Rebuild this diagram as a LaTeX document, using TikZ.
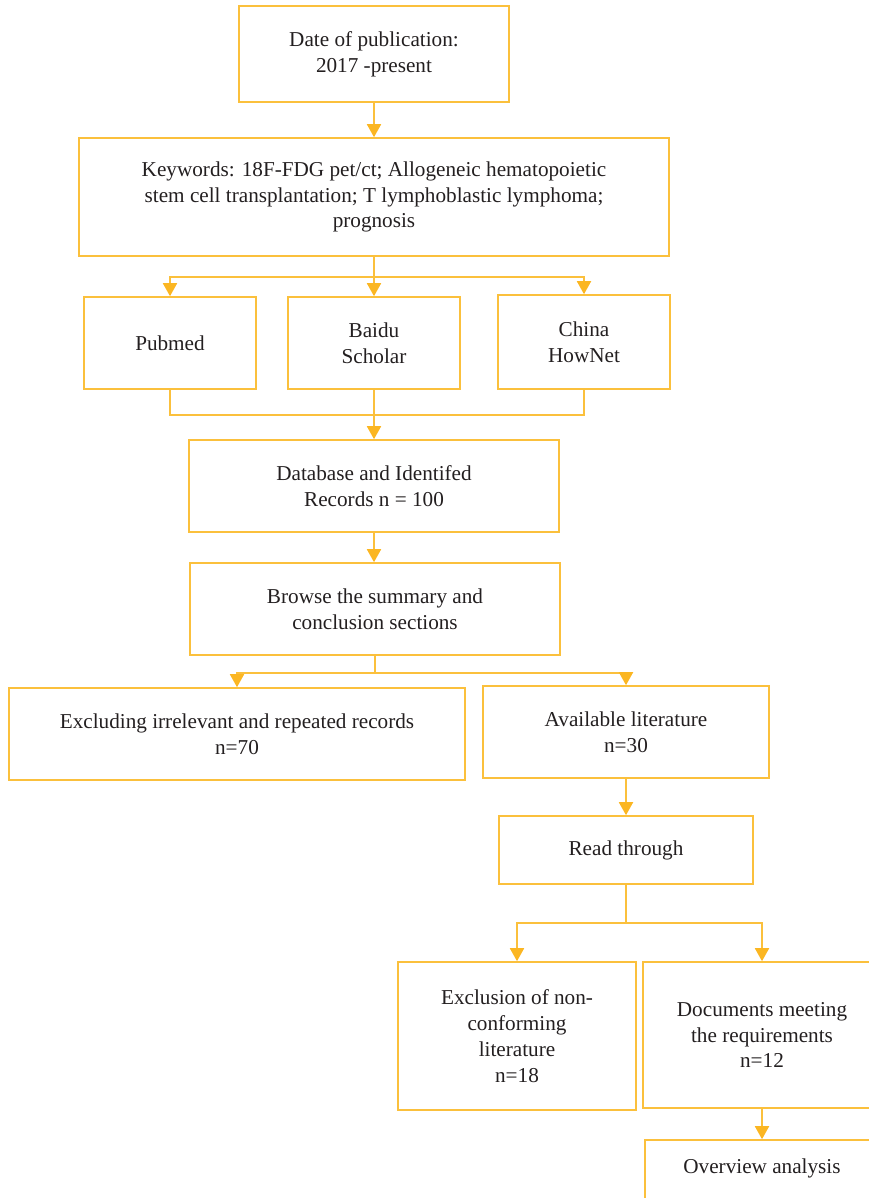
\documentclass[tikz,border=0pt]{standalone}
\usepackage{fontspec}
\setmainfont{Liberation Serif}
\usetikzlibrary{arrows.meta}
\definecolor{linec}{RGB}{251,192,60}
\definecolor{tipc}{RGB}{251,182,34}
\definecolor{txtc}{RGB}{35,31,32}
\begin{document}
\begin{tikzpicture}[x=1pt,y=-1pt,
  txt/.style={align=center, text=txtc, font=\fontsize{21.2}{25.8}\selectfont},
  box/.style={txt, draw=linec, line width=1.6pt, inner sep=0pt, anchor=center},
  conn/.style={draw=linec, line width=1.8pt},
  arr/.style={conn, -{Triangle[width=14pt,length=13pt,color=tipc]}}]
\useasboundingbox (0,0) rectangle (869,1198);
\node[box, minimum width=270pt, minimum height=96pt] (date) at (374,54) {Date of publication:\\ 2017 -present};
\node[box, minimum width=590pt, minimum height=118pt] (kw) at (374,197) {Keywords: 18F-FDG pet/ct; Allogeneic hematopoietic\\stem cell transplantation; T lymphoblastic lymphoma;\\prognosis};
\node[box, minimum width=172pt, minimum height=92pt] (pub) at (170,343) {Pubmed};
\node[box, minimum width=172pt, minimum height=92pt] (baidu) at (374,343) {Baidu\\Scholar};
\node[box, minimum width=172pt, minimum height=94pt] (china) at (584,342) {China\\HowNet};
\node[box, minimum width=370pt, minimum height=92pt] (db) at (374,486) {Database and Identifed\\Records n = 100};
\node[box, minimum width=370pt, minimum height=92pt] (browse) at (375,609) {Browse the summary and\\conclusion sections};
\node[box, minimum width=456pt, minimum height=92pt] (excl) at (237,734) {Excluding irrelevant and repeated records\\n=70};
\node[box, minimum width=286pt, minimum height=92pt] (avail) at (626,732) {Available literature\\n=30};
\node[box, minimum width=254pt, minimum height=68pt] (read) at (626,850) {Read through};
\node[box, minimum width=238pt, minimum height=148pt] (exclu) at (517,1036) {Exclusion of non-\\conforming\\literature\\n=18};
\node[box, minimum width=238pt, minimum height=146pt] (docs) at (762,1035) {Documents meeting\\the requirements\\n=12};
\node[box, minimum width=236pt, minimum height=70pt] (over) at (763,1175) {};
\node[txt] (overt) at (762,1168) {Overview analysis};
% connectors
\draw[arr] (date.south) -- (date.south |- kw.north);
\draw[conn] (kw.south) -- ++(0,20) coordinate (j1);
\draw[arr] (j1) -| (pub.north);
\draw[arr] (j1) -- (j1 |- baidu.north);
\draw[arr] (j1) -| (china.north);
\draw[conn] (pub.south) -- ++(0,25) -| (china.south);
\draw[arr] (baidu.south) -- (baidu.south |- db.north);
\draw[arr] (db.south) -- (db.south |- browse.north);
\draw[conn] (browse.south) -- ++(0,17) coordinate (j2);
\draw[arr] (j2) -| (excl.north);
\draw[arr] (j2) -| (avail.north);
\draw[arr] (avail.south) -- (avail.south |- read.north);
\draw[conn] (read.south) -- ++(0,38) coordinate (j3);
\draw[arr] (j3) -| (exclu.north);
\draw[arr] (j3) -| (docs.north);
\draw[arr] (docs.south) -- (docs.south |- over.north);
\end{tikzpicture}
\end{document}
